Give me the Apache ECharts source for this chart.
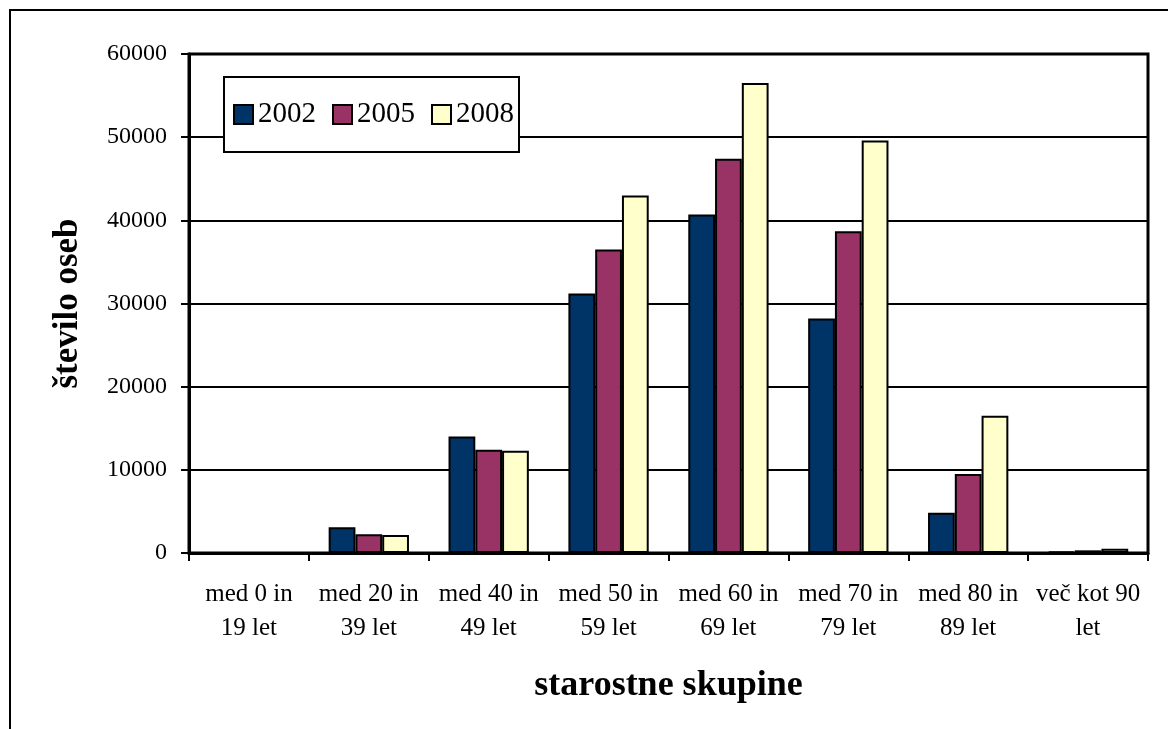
<!DOCTYPE html>
<html>
<head>
<meta charset="utf-8">
<style>
  html, body { margin: 0; padding: 0; background: #ffffff; }
  #chart { width: 1168px; height: 729px; }
</style>
<script src="https://cdn.jsdelivr.net/npm/echarts@6/dist/echarts.min.js"></script>
</head>
<body>
<div id="chart"></div>
<script>
// Age groups (x axis)
var categories = [
  'med 0 in\n19 let',
  'med 20 in\n39 let',
  'med 40 in\n49 let',
  'med 50 in\n59 let',
  'med 60 in\n69 let',
  'med 70 in\n79 let',
  'med 80 in\n89 let',
  'več kot 90\nlet'
];

// Number of persons per age group, by year
var years = ['2002', '2005', '2008'];
var values2002 = [20, 3100, 14000, 31200, 40700, 28200, 4850, 200];
var values2005 = [10, 2250, 12400, 36500, 47400, 38700, 9500, 320];
var values2008 = [10, 2150, 12300, 43000, 56500, 49600, 16500, 500];

var yMin = 0, yMax = 60000, yStep = 10000;

var colors = ['#003366', '#993366', '#FFFFCC'];
var serif = '"Liberation Serif", "Times New Roman", serif';

function barSeries(name, data, color) {
  return {
    name: name,
    type: 'bar',
    data: data,
    barGap: '0%',
    barCategoryGap: '33%',
    itemStyle: { color: color, borderColor: '#000000', borderWidth: 2 },
    emphasis: { disabled: true }
  };
}

var chart = echarts.init(document.getElementById('chart'), null, { renderer: 'canvas' });

chart.setOption({
  animation: false,
  backgroundColor: '#ffffff',
  graphic: [{
    type: 'rect',
    shape: { x: 10, y: 10, width: 1300, height: 900 },
    style: { fill: 'none', stroke: '#000000', lineWidth: 2 },
    z: -1
  }],
  grid: {
    left: 189, right: 20, top: 54, bottom: 176,
    show: true, borderColor: '#000000', borderWidth: 3,
    backgroundColor: 'transparent'
  },
  legend: {
    data: years,
    left: 224, top: 77,
    orient: 'horizontal',
    padding: [23, 5, 23, 9],
    itemWidth: 19, itemHeight: 19, itemGap: 16,
    backgroundColor: '#ffffff',
    borderColor: '#000000', borderWidth: 2, borderRadius: 0,
    textStyle: { fontFamily: serif, fontSize: 29, color: '#000000', padding: [0, 0, 0, 0] },
    icon: 'rect',
    selectedMode: false
  },
  xAxis: {
    type: 'category',
    data: categories,
    boundaryGap: true,
    axisLine: { show: true, lineStyle: { color: '#000000', width: 3 } },
    axisTick: { show: true, length: 8, inside: false, alignWithLabel: false, lineStyle: { color: '#000000', width: 2 } },
    axisLabel: {
      interval: 0, margin: 24,
      fontFamily: serif, fontSize: 25, color: '#000000', lineHeight: 34
    },
    name: 'starostne skupine',
    nameLocation: 'middle',
    nameGap: 115,
    nameTextStyle: { fontFamily: serif, fontSize: 36, fontWeight: 'bold', color: '#000000' }
  },
  yAxis: {
    type: 'value',
    min: yMin, max: yMax, interval: yStep,
    axisLine: { show: true, lineStyle: { color: '#000000', width: 3 } },
    axisTick: { show: true, length: 8, inside: false, lineStyle: { color: '#000000', width: 2 } },
    axisLabel: {
      margin: 22, fontFamily: serif, fontSize: 24, color: '#000000',
      formatter: function (v) { return String(v); }
    },
    splitLine: { show: true, lineStyle: { color: '#000000', width: 2 } },
    name: 'število oseb',
    nameLocation: 'middle',
    nameRotate: 90,
    nameGap: 104,
    nameTextStyle: { fontFamily: serif, fontSize: 35, fontWeight: 'bold', color: '#000000' }
  },
  series: [
    barSeries(years[0], values2002, colors[0]),
    barSeries(years[1], values2005, colors[1]),
    barSeries(years[2], values2008, colors[2])
  ]
});
</script>
</body>
</html>
